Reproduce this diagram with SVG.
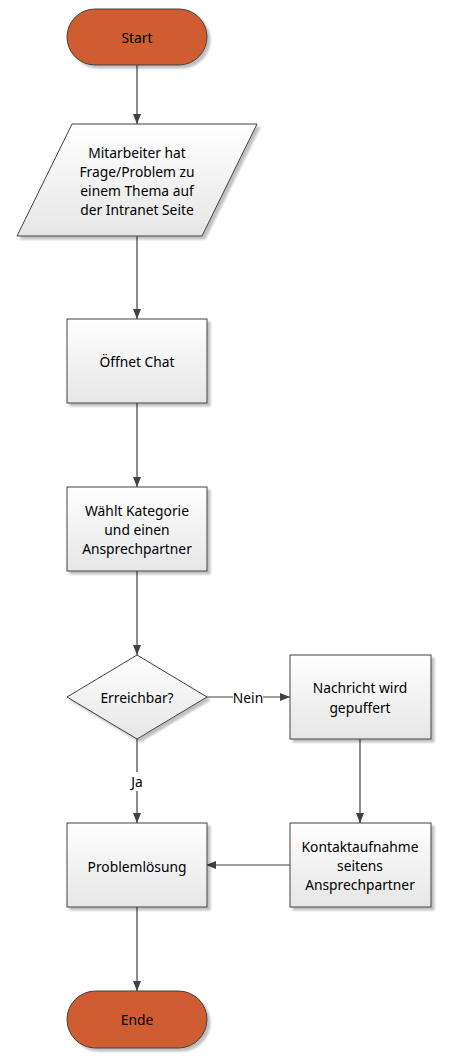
<svg xmlns="http://www.w3.org/2000/svg" width="451" height="1061" viewBox="0 0 451 1061">
<defs>
<linearGradient id="g" x1="0" y1="0" x2="0" y2="1">
<stop offset="0" stop-color="#ffffff"/>
<stop offset="1" stop-color="#e6e6e6"/>
</linearGradient>
<filter id="sh" x="-10%" y="-10%" width="130%" height="130%">
<feGaussianBlur in="SourceAlpha" stdDeviation="1.2"/>
<feOffset dx="3" dy="3" result="b"/>
<feComponentTransfer><feFuncA type="linear" slope="0.25"/></feComponentTransfer>
<feMerge><feMergeNode/><feMergeNode in="SourceGraphic"/></feMerge>
</filter>
<marker id="ah" markerWidth="10" markerHeight="10" viewBox="0 0 10 10" refX="10" refY="5" orient="auto" markerUnits="userSpaceOnUse">
<path d="M0,1 L10,5 L0,9 Z" fill="#404040"/>
</marker>
<style>
.box{fill:url(#g);stroke:#404040;stroke-width:1;filter:url(#sh)}
.term{fill:#D05C30;stroke:#404040;stroke-width:1;filter:url(#sh)}
.t{font-family:"Noto Sans","Open Sans","DejaVu Sans",sans-serif;font-size:13.8px;fill:#000;text-anchor:middle;dominant-baseline:central}
.c{fill:none;stroke:#404040;stroke-width:1.2;marker-end:url(#ah)}
.lbl{font-family:"Noto Sans","Open Sans","DejaVu Sans",sans-serif;font-size:13.8px;fill:#000;text-anchor:middle;dominant-baseline:central}
</style>
</defs>
<g id="connectors">
<line class="c" x1="137" y1="65" x2="137" y2="124"/>
<line class="c" x1="137" y1="236" x2="137" y2="319"/>
<line class="c" x1="137" y1="403" x2="137" y2="487"/>
<line class="c" x1="137" y1="571" x2="137" y2="655"/>
<path class="c" d="M206,697 H290"/>
<rect x="233" y="689" width="30" height="16" fill="#ffffff"/>
<text class="lbl" x="248" y="697">Nein</text>
<path class="c" d="M137,739 V823"/>
<rect x="128" y="772" width="18" height="19" fill="#ffffff"/>
<text class="lbl" x="137" y="781">Ja</text>
<line class="c" x1="360" y1="739" x2="360" y2="823"/>
<line class="c" x1="290" y1="865" x2="206" y2="865"/>
<line class="c" x1="137" y1="907" x2="137" y2="991"/>
</g>
<g id="start">
<rect class="term" x="67" y="9" width="140" height="56" rx="28"/>
<text class="t" x="137" y="37">Start</text>
</g>
<g id="input">
<polygon class="box" points="72,124 257,124 202,236 17,236"/>
<text class="t" x="137" y="152">Mitarbeiter hat</text>
<text class="t" x="137" y="171">Frage/Problem zu</text>
<text class="t" x="137" y="190">einem Thema auf</text>
<text class="t" x="137" y="209">der Intranet Seite</text>
</g>
<g id="oeffnet">
<rect class="box" x="67" y="319" width="140" height="84"/>
<text class="t" x="137" y="361">Öffnet Chat</text>
</g>
<g id="waehlt">
<rect class="box" x="67" y="487" width="140" height="84"/>
<text class="t" x="137" y="510">Wählt Kategorie</text>
<text class="t" x="137" y="529">und einen</text>
<text class="t" x="137" y="548">Ansprechpartner</text>
</g>
<g id="erreichbar">
<polygon class="box" points="137,655 207,697 137,739 67,697"/>
<text class="t" x="137" y="697">Erreichbar?</text>
</g>
<g id="nachricht">
<rect class="box" x="290" y="655" width="141" height="84"/>
<text class="t" x="360" y="687">Nachricht wird</text>
<text class="t" x="360" y="707">gepuffert</text>
</g>
<g id="problemloesung">
<rect class="box" x="67" y="823" width="140" height="84"/>
<text class="t" x="137" y="866">Problemlösung</text>
</g>
<g id="kontakt">
<rect class="box" x="290" y="823" width="141" height="84"/>
<text class="t" x="360" y="846">Kontaktaufnahme</text>
<text class="t" x="360" y="865">seitens</text>
<text class="t" x="360" y="884">Ansprechpartner</text>
</g>
<g id="ende">
<rect class="term" x="67" y="991" width="140" height="57" rx="28.5"/>
<text class="t" x="137" y="1019">Ende</text>
</g>
</svg>
